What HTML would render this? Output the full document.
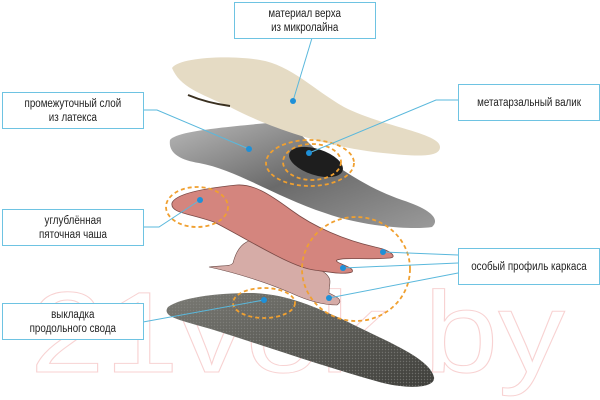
<!DOCTYPE html>
<html><head><meta charset="utf-8">
<style>
html,body{margin:0;padding:0;background:#fff;}
#w{position:relative;width:600px;height:400px;overflow:hidden;font-family:"Liberation Sans","Noto Sans CJK SC",sans-serif;}
svg{position:absolute;left:0;top:0;}
.b{position:absolute;border:1.5px solid #6ec3e2;background:#fff;box-sizing:border-box;height:37px;width:142px;display:flex;align-items:center;justify-content:center;text-align:center;font-size:11.5px;line-height:14px;color:#222;}
.b span{display:inline-block;transform:scaleX(0.85);white-space:nowrap;}
</style></head><body><div id="w">
<svg width="600" height="400" viewBox="0 0 600 400">
<defs>
<linearGradient id="g1" x1="0" y1="0" x2="1" y2="1"><stop offset="0" stop-color="#b8b8b8"/><stop offset="0.5" stop-color="#6a6a6a"/><stop offset="1" stop-color="#9a9a9a"/></linearGradient>
<linearGradient id="g2" x1="0" y1="0" x2="1" y2="1"><stop offset="0" stop-color="#7a7a74"/><stop offset="1" stop-color="#3e3e3a"/></linearGradient>
<pattern id="dots" width="3" height="3" patternUnits="userSpaceOnUse"><circle cx="1.5" cy="1.5" r="0.7" fill="#8a8a86"/></pattern>
</defs>
<text x="30" y="372" font-family="Liberation Sans" font-size="115" fill="none" stroke="#f8d2d2" stroke-width="1" textLength="535" lengthAdjust="spacingAndGlyphs">21vek.by</text>
<path d="M168,307 C180,298 214,293 253,293 C291,295 314,307 344,320 C383,340 429,357 434,377 C436,387 413,390 383,383 C325,367 268,347 214,330 C180,320 161,317 168,307 Z" fill="url(#g2)"/>
<path d="M168,307 C180,298 214,293 253,293 C291,295 314,307 344,320 C383,340 429,357 434,377 C436,387 413,390 383,383 C325,367 268,347 214,330 C180,320 161,317 168,307 Z" fill="url(#dots)" opacity="0.6"/>
<path d="M209,267 C222,265 230,267 233,263 C237,247 245,237 268,238 C291,243 306,260 325,273 C333,280 329,283 329,293 C337,297 344,300 337,305 C321,305 306,300 291,293 C268,283 237,273 209,267 Z" fill="#d6aca7" stroke="#6a4a46" stroke-width="0.6"/>
<path d="M172,203 C176,193 207,188 237,185 C253,184 268,193 291,210 C314,227 344,240 375,247 C390,250 398,257 390,258 C367,260 344,257 337,260 C333,263 356,267 352,272 C344,275 329,272 314,270 C291,267 249,240 214,222 C188,213 170,213 172,203 Z" fill="#d4857e" stroke="#7a4a46" stroke-width="0.8"/>
<path d="M170,140 C176,132 214,128 268,123 C283,123 295,127 306,140 C325,160 364,187 402,200 C433,210 440,220 432,227 C413,230 364,227 325,213 C276,197 237,170 199,163 C180,160 168,153 170,140 Z" fill="url(#g1)"/>
<ellipse cx="316" cy="162" rx="28" ry="13" transform="rotate(18 316 162)" fill="#1e1e1e"/>
<path d="M172,68 C180,57 230,55 260,60 C291,65 314,90 344,107 C383,127 440,133 440,147 C440,157 421,157 383,153 C325,147 268,127 230,107 C199,93 180,87 172,68 Z" fill="#e5dbc4"/>
<path d="M188,95 C200,100 215,104 230,106" stroke="#3a3020" stroke-width="2" fill="none"/>
<g fill="none" stroke="#f0a030" stroke-width="1.8" stroke-dasharray="4,3">
<ellipse cx="310" cy="163" rx="44" ry="23"/>
<ellipse cx="312" cy="162" rx="29" ry="18"/>
<ellipse cx="197" cy="207" rx="31" ry="20"/>
<ellipse cx="356" cy="269" rx="54" ry="52"/>
<ellipse cx="264" cy="303" rx="31" ry="15"/>
</g>
<g stroke="#5ab8dc" stroke-width="1" fill="none">
<polyline points="312,38 293,101"/>
<polyline points="143,110 157,110 249,149"/>
<polyline points="458,100 436,100 309,153"/>
<polyline points="143,227 159,227 200,200"/>
<polyline points="458,255 383,252"/>
<polyline points="458,263 343,268"/>
<polyline points="458,273 329,298"/>
<polyline points="143,322 264,300"/>
</g>
<g fill="#1e90d8">
<circle cx="293" cy="101" r="3"/><circle cx="249" cy="149" r="3"/><circle cx="309" cy="153" r="3"/>
<circle cx="200" cy="200" r="3"/><circle cx="383" cy="252" r="3"/><circle cx="343" cy="268" r="3"/>
<circle cx="329" cy="298" r="3"/><circle cx="264" cy="300" r="3"/>
</g>
</svg>
<div class="b" style="left:234px;top:2px;"><span>материал верха<br>из микролайна</span></div>
<div class="b" style="left:2px;top:92px;"><span>промежуточный слой<br>из латекса</span></div>
<div class="b" style="left:458px;top:84px;"><span>метатарзальный валик</span></div>
<div class="b" style="left:2px;top:209px;"><span>углублённая<br>пяточная чаша</span></div>
<div class="b" style="left:458px;top:248px;"><span>особый профиль каркаса</span></div>
<div class="b" style="left:2px;top:303px;"><span>выкладка<br>продольного свода</span></div>
</div></body></html>
